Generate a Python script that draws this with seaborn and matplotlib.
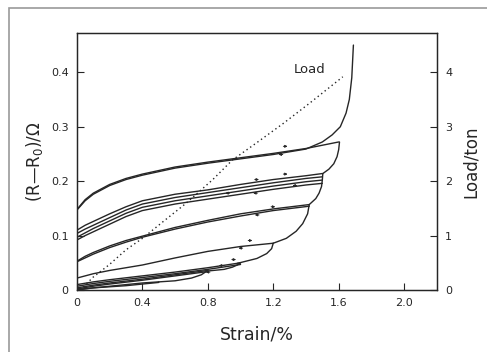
import pandas as pd
import matplotlib.pyplot as plt
import seaborn as sns
from matplotlib.patches import Rectangle

# --- resistance change vs strain (strain %, (R-R0) ohm) ---
# cycles to 0.5 / 0.8 / 1.0 % strain
s_050 = [0.0, 0.1, 0.2, 0.3, 0.4, 0.5]
r_050_a = [0.000, 0.004, 0.007, 0.010, 0.013, 0.015]
r_050_b = [0.001, 0.004, 0.006, 0.008, 0.011, 0.014]
s_080 = [0.0, 0.1, 0.2, 0.4, 0.6, 0.8]
r_080_a = [0.004, 0.009, 0.013, 0.020, 0.028, 0.036]
r_080_b = [0.002, 0.007, 0.011, 0.018, 0.026, 0.034]
s_100 = [0.0, 0.1, 0.2, 0.4, 0.6, 0.8, 1.0]
r_100_a = [0.010, 0.015, 0.019, 0.026, 0.033, 0.041, 0.050]
r_100_b = [0.007, 0.012, 0.016, 0.023, 0.030, 0.038, 0.047]
# cycle to 1.2 %
s_120 = [0.0, 0.05, 0.1, 0.2, 0.3, 0.4, 0.6, 0.8, 1.0, 1.2]
r_120 = [0.022, 0.026, 0.030, 0.036, 0.041, 0.046, 0.059, 0.071, 0.080, 0.086]
# cycle to 1.4 %
s_140 = [0.0, 0.05, 0.1, 0.2, 0.3, 0.4, 0.6, 0.8, 1.0, 1.2, 1.42]
r_140_a = [0.053, 0.062, 0.069, 0.081, 0.091, 0.099, 0.115, 0.128, 0.140, 0.149, 0.157]
r_140_b = [0.052, 0.059, 0.066, 0.078, 0.088, 0.097, 0.112, 0.125, 0.136, 0.146, 0.154]
# repeated cycles to 1.5 %
s_150 = [0.0, 0.05, 0.1, 0.2, 0.3, 0.4, 0.6, 0.8, 1.0, 1.2, 1.4, 1.5]
r_150_a = [0.110, 0.119, 0.126, 0.140, 0.153, 0.164, 0.176, 0.184, 0.194, 0.203, 0.210, 0.214]
r_150_b = [0.104, 0.112, 0.119, 0.133, 0.147, 0.158, 0.170, 0.179, 0.188, 0.197, 0.205, 0.208]
r_150_c = [0.097, 0.105, 0.113, 0.127, 0.141, 0.152, 0.164, 0.173, 0.182, 0.191, 0.199, 0.202]
r_150_d = [0.092, 0.100, 0.107, 0.121, 0.135, 0.146, 0.158, 0.167, 0.176, 0.185, 0.193, 0.196]
# cycle to 1.6 %
s_160 = [0.0, 0.05, 0.1, 0.2, 0.3, 0.4, 0.6, 0.8, 1.0, 1.2, 1.4, 1.6]
r_160 = [0.148, 0.166, 0.178, 0.194, 0.205, 0.213, 0.226, 0.235, 0.243, 0.251, 0.260, 0.272]
# last loading up to failure
s_fail = [0.0, 0.05, 0.1, 0.2, 0.3, 0.4, 0.6, 0.8, 1.0, 1.2, 1.4, 1.5, 1.56, 1.61, 1.645, 1.665, 1.68, 1.69]
r_fail = [0.147, 0.164, 0.176, 0.192, 0.203, 0.211, 0.224, 0.233, 0.241, 0.249, 0.259, 0.272,
          0.285, 0.300, 0.325, 0.350, 0.390, 0.450]

# steep parts where strain goes past the previous maximum
s_edge_08 = [0.5, 0.6, 0.7, 0.76, 0.8]
r_edge_08 = [0.015, 0.017, 0.022, 0.028, 0.036]
s_edge_10 = [0.8, 0.9, 0.95, 0.98, 1.0]
r_edge_10 = [0.035, 0.038, 0.042, 0.046, 0.050]
s_edge_12 = [0.98, 1.10, 1.16, 1.19, 1.2]
r_edge_12 = [0.049, 0.058, 0.067, 0.076, 0.086]
s_edge_14 = [1.2, 1.28, 1.34, 1.38, 1.41, 1.42]
r_edge_14 = [0.086, 0.095, 0.108, 0.122, 0.140, 0.157]
s_edge_15 = [1.42, 1.46, 1.48, 1.495, 1.5, 1.503]
r_edge_15 = [0.157, 0.168, 0.178, 0.190, 0.202, 0.214]
s_edge_16 = [1.503, 1.54, 1.57, 1.59, 1.60, 1.605]
r_edge_16 = [0.214, 0.222, 0.232, 0.245, 0.258, 0.272]

# load curve (right axis, ton)
load_strain = [0.02, 0.10, 0.195, 0.30, 0.40, 0.54, 0.665, 0.83, 0.95, 1.095, 1.26, 1.42, 1.625]
load_ton = [0.0, 0.24, 0.46, 0.74, 0.95, 1.29, 1.59, 2.03, 2.39, 2.70, 3.06, 3.43, 3.92]

# small direction arrows on the loops (strain, R, +1 loading / -1 unloading)
arrow_strain = [1.275, 1.245, 1.10, 1.09, 1.275, 1.33, 0.92, 1.20, 1.10, 1.06, 1.00, 0.96, 0.88, 0.80]
arrow_res = [0.264, 0.249, 0.203, 0.178, 0.213, 0.192, 0.178, 0.153, 0.138, 0.091, 0.077, 0.056, 0.045, 0.033]
arrow_dir = [1, -1, 1, -1, 1, -1, -1, 1, -1, 1, -1, 1, -1, -1]

x_ticks = [0, 0.4, 0.8, 1.2, 1.6, 2.0]
x_labels = ['0', '0.4', '0.8', '1.2', '1.6', '2.0']
y_ticks = [0, 0.1, 0.2, 0.3, 0.4]
y_labels = ['0', '0.1', '0.2', '0.3', '0.4']
load_ticks = [0, 1, 2, 3, 4]

curves = [
    (s_050, r_050_a), (s_050, r_050_b), (s_080, r_080_a), (s_080, r_080_b),
    (s_100, r_100_a), (s_100, r_100_b), (s_120, r_120),
    (s_140, r_140_a), (s_140, r_140_b),
    (s_150, r_150_a), (s_150, r_150_b), (s_150, r_150_c), (s_150, r_150_d),
    (s_160, r_160), (s_fail, r_fail),
    (s_edge_08, r_edge_08), (s_edge_10, r_edge_10), (s_edge_12, r_edge_12),
    (s_edge_14, r_edge_14), (s_edge_15, r_edge_15), (s_edge_16, r_edge_16),
]
rows = []
for i, (xs, ys) in enumerate(curves):
    for x, y in zip(xs, ys):
        rows.append({'strain': x, 'res': y, 'curve': i})
df = pd.DataFrame(rows)

sns.set_style("ticks")
plt.rcParams['font.family'] = ['DejaVu Sans']
plt.rcParams['mathtext.fontset'] = 'dejavusans'
ink = '#262626'

fig = plt.figure(figsize=(4.87, 3.52), dpi=100)
fig.patch.set_facecolor('white')
ax = fig.add_axes([0.158, 0.176, 0.739, 0.730])

sns.lineplot(data=df, x='strain', y='res', units='curve', estimator=None, sort=False,
             color=ink, linewidth=1.0, ax=ax, legend=False)

# little arrow marks: short dash with a tiny head
for x, y, d in zip(arrow_strain, arrow_res, arrow_dir):
    ax.annotate('', xy=(x + 0.03 * d, y), xytext=(x - 0.03 * d, y),
                arrowprops=dict(arrowstyle='-|>', color=ink, lw=0.7, mutation_scale=3.5))

ax.text(1.42, 0.405, 'Load', ha='center', va='center', fontsize=9.5, color=ink)

ax.set_xlim(0, 2.2)
ax.set_ylim(0, 0.472)
ax.set_xticks(x_ticks)
ax.set_xticklabels(x_labels)
ax.set_yticks(y_ticks)
ax.set_yticklabels(y_labels)
ax.tick_params(direction='in', length=5, width=0.8, colors=ink, labelsize=8, pad=6)
ax.set_xlabel('Strain/%', fontsize=12.5, color=ink, labelpad=12)
ax.set_ylabel('(R\u2014R$_0$)/\u03a9', fontsize=12, color=ink, labelpad=4)
for sp in ax.spines.values():
    sp.set_color(ink)
    sp.set_linewidth(0.9)

ax2 = ax.twinx()
sns.lineplot(x=load_strain, y=load_ton, ax=ax2, color=ink, linewidth=1.0,
             linestyle=(0, (1, 2.2)), estimator=None, sort=False)
ax2.set_ylim(0, 4.724)
ax2.set_yticks(load_ticks)
ax2.tick_params(direction='in', length=5, width=0.8, colors=ink, labelsize=8, pad=6)
ax2.set_ylabel('Load/ton', fontsize=12, color=ink, labelpad=7)
for sp in ax2.spines.values():
    sp.set_color(ink)
    sp.set_linewidth(0.9)

# frame of the scanned figure
fig.add_artist(Rectangle((9 / 487, -0.1), 1.2, 1.0 - 8 / 352 + 0.1, transform=fig.transFigure,
                         fill=False, edgecolor='#9a9a9a', linewidth=1.2))

fig.savefig('out.png', dpi=100)
